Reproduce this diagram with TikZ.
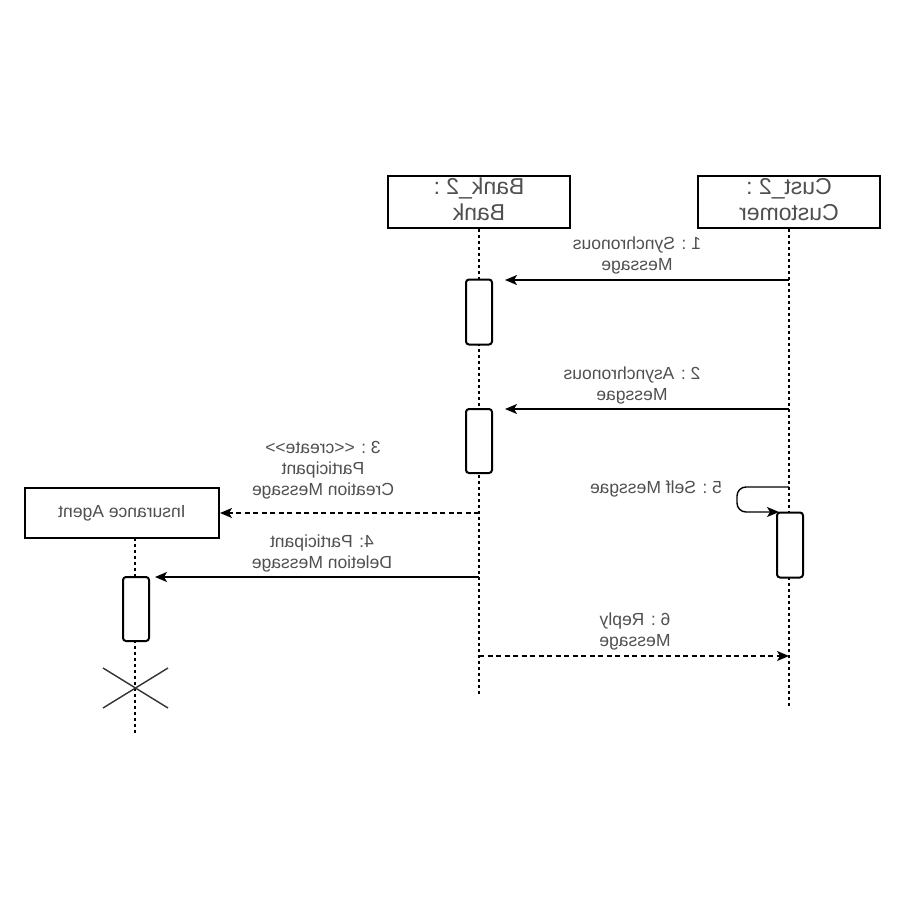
\documentclass[tikz,border=0pt]{standalone}
\usepackage{graphicx}
\usepackage{fontspec}
\setmainfont{Liberation Sans}
\newfontfamily\lsans{Liberation Sans}
\usetikzlibrary{arrows.meta}
\definecolor{labelgray}{HTML}{505050}
% mirrored, centred multi-line text
\newcommand{\mirtext}[1]{\reflectbox{\begin{tabular}{@{}c@{}}#1\end{tabular}}}
\begin{document}
\begin{tikzpicture}[x=1pt,y=-1pt,
  objbox/.style={draw, line width=2.2pt, rectangle, inner sep=0pt, fill=white,
    text=labelgray, font=\lsans\fontsize{23}{26}\selectfont},
  agentbox/.style={draw, line width=2pt, rectangle, inner sep=0pt, fill=white,
    text=labelgray, font=\lsans\fontsize{17.5}{21}\selectfont},
  lifeline/.style={line width=1.2pt, dash pattern=on 3pt off 3pt},
  activation/.style={draw, line width=2pt, rounded corners=3pt, fill=white,
    minimum width=26pt, minimum height=65pt, inner sep=0pt},
  msg/.style={line width=1.4pt, -{Stealth[length=12pt,width=10pt,inset=3pt]}},
  dmsg/.style={msg, dash pattern=on 5pt off 3.5pt},
  msglabel/.style={text=labelgray, inner sep=0pt, font=\lsans\fontsize{17.5}{21}\selectfont}]

\useasboundingbox (0,0) rectangle (900,900);
\fill[white] (0,0) rectangle (900,900);

% participants
\node[objbox, minimum width=182pt, minimum height=52pt] (bank) at (479,202) {\mirtext{Bank\_2 :\\Bank}};
\node[objbox, minimum width=182pt, minimum height=52pt] (cust) at (789,202) {\mirtext{Cust\_2 :\\Customer}};
\node[agentbox, minimum width=194pt, minimum height=50pt] (agent) at (122,513) {\mirtext{Insurance Agent}};

% lifelines
\coordinate (bankend) at (479,695);
\coordinate (custend) at (789,708);
\coordinate (agenttop) at (135,538);
\coordinate (agentend) at (135,735);
\draw[lifeline] (bank.south) -- (bankend);
\draw[lifeline] (cust.south) -- (custend);
\draw[lifeline] (agenttop) -- (agentend);

% activation bars
\node[activation] (b1) at (479,312) {};
\node[activation, minimum height=64pt] (b2) at (479,441) {};
\node[activation] (c1) at (790,545) {};
\node[activation, minimum height=64pt] (a1) at (136,609) {};

% destruction mark
\coordinate (xa) at (103,668);
\coordinate (xb) at (168,708);
\coordinate (xc) at (103,708);
\coordinate (xd) at (168,668);
\draw[line width=1.4pt, black!80] (xa) -- (xb);
\draw[line width=1.4pt, black!80] (xc) -- (xd);

% message end points
\coordinate (m1s) at (789,280);
\coordinate (m1e) at (505,280);
\coordinate (m2s) at (789,409);
\coordinate (m2e) at (505,409);
\coordinate (m3s) at (479,513);
\coordinate (m4s) at (479,577);
\coordinate (m4e) at (155,577);
\coordinate (m5s) at (789,487);
\coordinate (m5a) at (737,487);
\coordinate (m5b) at (737,512);
\coordinate (m5e) at (779,512);
\coordinate (m6s) at (479,656);
\coordinate (m6e) at (789,656);

% messages
\draw[msg] (m1s) -- (m1e);
\draw[msg] (m2s) -- (m2e);
\draw[dmsg] (m3s) -- (agent.east |- m3s);
\draw[msg] (m4s) -- (m4e);
\draw[msg, rounded corners=9pt] (m5s) -- (m5a) -- (m5b) -- (m5e);
\draw[dmsg] (m6s) -- (m6e);

% message labels
\node[msglabel] (l1) at (637,256) {\mirtext{1 : Synchronous\\Message}};
\node[msglabel] (l2) at (632,386) {\mirtext{2 : Asynchronous\\Messgae}};
\node[msglabel] (l3) at (323,470) {\mirtext{3 : <{}<create>{}>\\Participant\\Creation Message}};
\node[msglabel] (l4) at (322,554) {\mirtext{4: Participant\\Deletion Message}};
\node[msglabel] (l5) at (656,489) {\mirtext{5 : Self Messgae}};
\node[msglabel] (l6) at (635,632) {\mirtext{6 : Reply\\Message}};
\end{tikzpicture}
\end{document}
